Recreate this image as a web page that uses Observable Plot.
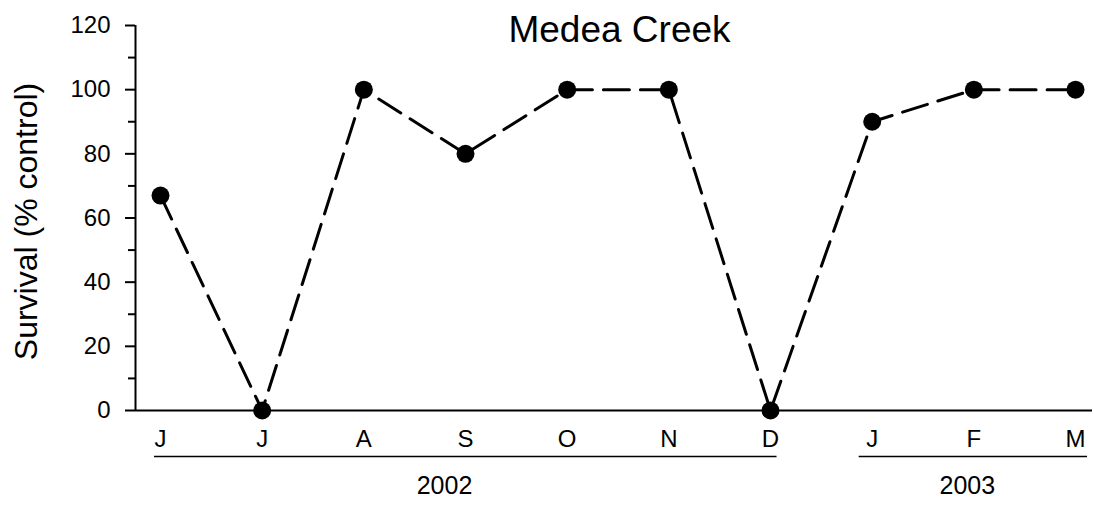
<!DOCTYPE html>
<html>
<head>
<meta charset="utf-8">
<script src="https://cdn.jsdelivr.net/npm/d3@7"></script>
<script src="https://cdn.jsdelivr.net/npm/@observablehq/plot@0.6"></script>
<style>
  html, body { margin: 0; padding: 0; background: #fff; }
  #chart svg { display: block; }
</style>
</head>
<body>
<div id="chart"></div>
<script>
const months = ["J", "J", "A", "S", "O", "N", "D", "J", "F", "M"];
const survival = [67, 0, 100, 80, 100, 100, 0, 90, 100, 100];
const years = ["2002", "2003"];
const yearFirstMonth = [0, 7];
const yearLastMonth = [6, 9];
const yMajorTicks = [0, 20, 40, 60, 80, 100, 120];
const yMinorTicks = [10, 30, 50, 70, 90, 110];
const title = "Medea Creek";
const yLabel = "Survival (% control)";

const points = months.map((m, i) => ({i, month: m, value: survival[i]}));
const spans = years.map((y, k) => ({year: y, first: yearFirstMonth[k], last: yearLastMonth[k], mid: (yearFirstMonth[k] + yearLastMonth[k]) / 2}));

const font = "'Liberation Sans', Arial, Helvetica, sans-serif";
const xDomain = [-0.246, 9.167];

const chart = Plot.plot({
  width: 1094,
  height: 508,
  marginTop: 25,
  marginBottom: 98,
  marginLeft: 135,
  marginRight: 2,
  style: {fontFamily: font, background: "#fff", color: "#000"},
  x: {domain: xDomain, axis: null},
  y: {domain: [0, 120], axis: null},
  marks: [
    // minor y ticks
    Plot.axisY({ticks: yMinorTicks, tickSize: 7, text: null, strokeWidth: 2, label: null}),
    // major y ticks
    Plot.axisY({ticks: yMajorTicks, tickSize: 10, tickPadding: 15, fontSize: 24, strokeWidth: 2, label: null, tickFormat: d => String(d)}),
    // month labels
    Plot.axisX({ticks: months.map((_, i) => i), tickFormat: i => months[i], tickSize: 0, tickPadding: 19, fontSize: 24, label: null}),
    // axis lines
    Plot.ruleX([xDomain[0]], {stroke: "#000", strokeWidth: 2}),
    Plot.ruleY([0], {stroke: "#000", strokeWidth: 2}),
    // year underlines
    Plot.ruleY(spans.filter(d => d.year === "2002"), {x1: "first", x2: "last", y: () => 0, dy: 46, insetLeft: -6, insetRight: -6.5, stroke: "#000", strokeWidth: 1.5}),
    Plot.ruleY(spans.filter(d => d.year === "2003"), {x1: "first", x2: "last", y: () => 0, dy: 46, insetLeft: -13, insetRight: -12, stroke: "#000", strokeWidth: 1.5}),
    // year labels
    Plot.text(spans.filter(d => d.year === "2002"), {x: "mid", y: () => 0, text: "year", dy: 75, dx: -21, fontSize: 25, fill: "#000"}),
    Plot.text(spans.filter(d => d.year === "2003"), {x: "mid", y: () => 0, text: "year", dy: 75, dx: -6.5, fontSize: 25, fill: "#000"}),
    // data
    Plot.line(points, {x: "i", y: "value", stroke: "#000", strokeWidth: 3, strokeDasharray: "26,11"}),
    Plot.dot(points, {x: "i", y: "value", r: 9, fill: "#000"}),
    // title
    Plot.text([title], {frameAnchor: "top", text: d => d, dx: 5.5, dy: 4.7, lineAnchor: "middle", fontSize: 37, fill: "#000"}),
    // y label
    Plot.text([yLabel], {frameAnchor: "left", text: d => d, rotate: -90, dx: -108.5, dy: 3.5, lineAnchor: "middle", textAnchor: "middle", fontSize: 32, fill: "#000"})
  ]
});
document.getElementById("chart").appendChild(chart);
</script>
</body>
</html>
